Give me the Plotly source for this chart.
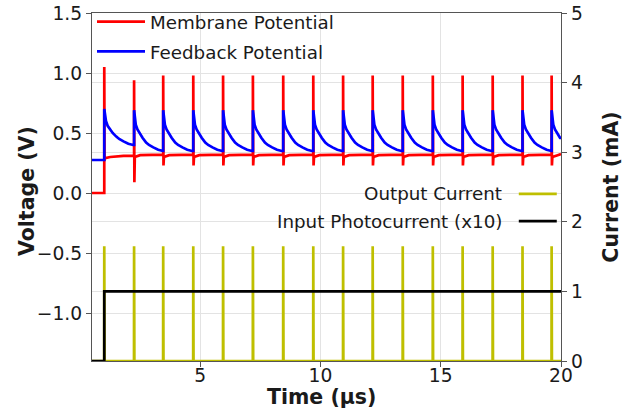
import plotly.graph_objects as go

# ---------------- data ----------------
spike_times = [1.01, 2.25, 3.46, 4.71, 5.95, 7.19, 8.45, 9.70, 10.94,
               12.17, 13.42, 14.67, 15.91, 17.16, 18.40, 19.61]
red_peaks = [1.05, 0.94, 0.98, 0.98, 0.98, 0.98, 0.98, 0.98, 0.98,
             0.98, 0.98, 0.98, 0.98, 0.98, 0.98, 0.98]
red_dips = [0.27, 0.09, 0.23, 0.23, 0.23, 0.23, 0.23, 0.23, 0.23,
            0.23, 0.23, 0.23, 0.23, 0.23, 0.23, 0.23]
red_rest_before = 0.0
red_recovery_dt = [0.03, 0.25, 0.8]          # µs after each spike
red_recovery_first = [0.29, 0.30, 0.31]       # V, first inter-spike interval
red_recovery_later = [0.30, 0.315, 0.32]      # V, later intervals
red_end = 0.325

blue_rest_before = 0.275
blue_decay_dt = [0.0, 0.03, 0.07, 0.14, 0.25, 0.35, 0.5, 0.62, 0.8, 1.0, 1.2]
blue_decay_first = [0.70, 0.64, 0.60, 0.56, 0.53, 0.50, 0.47, 0.45, 0.43, 0.41, 0.40]
blue_decay_later = [0.69, 0.62, 0.57, 0.53, 0.49, 0.46, 0.42, 0.40, 0.38, 0.36, 0.35]

out_peaks = [1.65] * len(spike_times)          # mA
photo_onset = 1.01                              # µs
photo_level = 1.0                               # mA (x10)

t_start, t_end = 0.5, 20.0

# ---------------- build the traces from the values ----------------
def seg_end(i):
    return spike_times[i + 1] if i + 1 < len(spike_times) else t_end

# membrane potential
rx, ry = [t_start, spike_times[0]], [red_rest_before, red_rest_before]
for i, t in enumerate(spike_times):
    rec = red_recovery_first if i == 0 else red_recovery_later
    rx += [t, t + 0.012]
    ry += [red_peaks[i], red_dips[i]]
    for dt, v in zip(red_recovery_dt, rec):
        if t + dt < seg_end(i):
            rx.append(t + dt)
            ry.append(v)
    rx.append(seg_end(i))
    ry.append(rec[-1] if i + 1 < len(spike_times) else red_end)

# feedback potential
bx, by = [t_start, spike_times[0]], [blue_rest_before, blue_rest_before]
for i, t in enumerate(spike_times):
    tmpl = blue_decay_first if i == 0 else blue_decay_later
    for dt, v in zip(blue_decay_dt, tmpl):
        if t + dt < seg_end(i):
            bx.append(t + dt)
            by.append(v)
    bx.append(seg_end(i))
    by.append(by[-1])

# output current
ox, oy = [t_start], [0.0]
for t, p in zip(spike_times, out_peaks):
    ox += [t - 0.004, t, t + 0.012]
    oy += [0.0, p, 0.0]
ox.append(t_end)
oy.append(0.0)

# input photocurrent (x10)
px = [t_start, photo_onset, photo_onset, t_end]
py = [0.0, 0.0, photo_level, photo_level]

# ---------------- figure ----------------
FONT = "DejaVu Sans"
TXT = "#1a1a1a"
LW = 2.7

fig = go.Figure()
fig.add_trace(go.Scatter(x=rx, y=ry, mode="lines", name="Membrane Potential",
                         legendgroup="m",
                         line=dict(color="#ff0000", width=LW), yaxis="y"))
fig.add_trace(go.Scatter(x=bx, y=by, mode="lines", name="Feedback Potential",
                         legendgroup="f",
                         line=dict(color="#0000ff", width=LW), yaxis="y"))
fig.add_trace(go.Scatter(x=ox, y=oy, mode="lines", name="Output Current",
                         line=dict(color="#bfbf00", width=LW), yaxis="y2",
                         showlegend=False))
fig.add_trace(go.Scatter(x=px, y=py, mode="lines", name="Input Photocurrent (x10)",
                         line=dict(color="#000000", width=LW), yaxis="y2",
                         showlegend=False))

# second legend (text first, line sample after it, as in the reference)
leg2 = [("Output Current", "#bfbf00", 0.480), ("Input Photocurrent (x10)", "#000000", 0.402)]
for label, col, yy in leg2:
    fig.add_annotation(x=0.8785, y=yy, xref="paper", yref="paper", text=label,
                       showarrow=False, xanchor="right", yanchor="middle",
                       font=dict(family=FONT, size=18.3, color=TXT))
    fig.add_shape(type="line", xref="paper", yref="paper", x0=0.910, x1=0.991,
                  y0=yy, y1=yy, line=dict(color=col, width=LW))

# axis titles placed as in the reference
fig.add_annotation(x=-0.1386, y=0.4885, xref="paper", yref="paper",
                   text="<b>Voltage (V)</b>", textangle=-90, showarrow=False,
                   xanchor="center", yanchor="middle",
                   font=dict(family=FONT, size=20.5, color=TXT))
fig.add_annotation(x=0.4897, y=-0.103, xref="paper", yref="paper",
                   text="<b>Time (µs)</b>", showarrow=False,
                   xanchor="center", yanchor="middle",
                   font=dict(family=FONT, size=20.5, color=TXT))

GRID = "#e3e3e3"
SPINE = "#555555"
fig.update_layout(
    width=639, height=413,
    margin=dict(l=92, r=78, t=13, b=52, autoexpand=False),
    paper_bgcolor="white", plot_bgcolor="white",
    font=dict(family=FONT, size=18.7, color=TXT),
    xaxis=dict(range=[t_start, t_end], tickvals=[5, 10, 15, 20], automargin=False,
               ticks="outside", ticklen=5, tickcolor=SPINE, tickwidth=1.2,
               ticklabelstandoff=-8,
               showgrid=True, gridcolor=GRID, gridwidth=1, zeroline=False,
               showline=True, linecolor=SPINE, linewidth=1.3, mirror=True),
    yaxis=dict(range=[-1.4, 1.5], tickvals=[-1.0, -0.5, 0.0, 0.5, 1.0, 1.5],
               ticktext=["−1.0", "−0.5", "0.0", "0.5", "1.0", "1.5"], automargin=False,
               ticks="outside", ticklen=5, tickcolor=SPINE, tickwidth=1.2,
               showgrid=True, gridcolor=GRID, gridwidth=1, zeroline=False,
               showline=True, linecolor=SPINE, linewidth=1.3),
    yaxis2=dict(range=[0, 5], tickvals=[0, 1, 2, 3, 4, 5], overlaying="y", side="right",
                automargin=False,
                ticks="outside", ticklen=5, tickcolor=SPINE, tickwidth=1.2,
                showgrid=True, gridcolor=GRID, gridwidth=1, zeroline=False,
                showline=True, linecolor=SPINE, linewidth=1.3,
                title=dict(text="<b>Current (mA)</b>", font=dict(size=20.5), standoff=21)),
    legend=dict(x=0.0, y=1.028, xanchor="left", yanchor="top", bgcolor="rgba(0,0,0,0)",
                font=dict(family=FONT, size=18.3, color=TXT), itemwidth=48,
                tracegroupgap=3),
)

fig.write_html("out.html")
